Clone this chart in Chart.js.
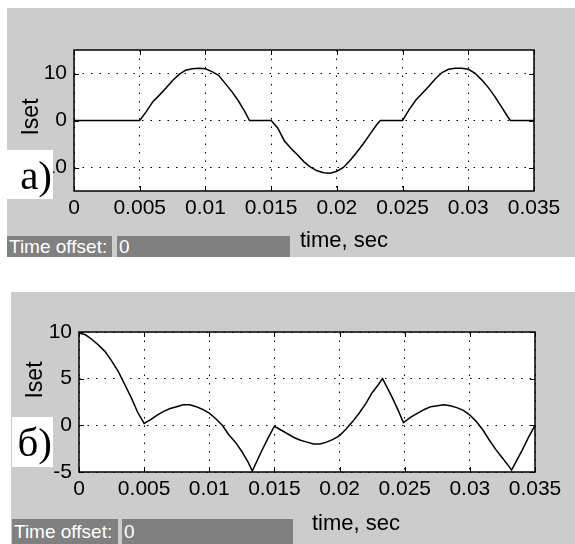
<!DOCTYPE html>
<html>
<head>
<meta charset="utf-8">
<script src="https://cdn.jsdelivr.net/npm/chart.js@4"></script>
<style>
  body { margin:0; background:#fff; width:575px; height:544px; position:relative; overflow:hidden;
         font-family: Arial, 'Liberation Sans', sans-serif; }
  .panel { position:absolute; background:#cccccc; }
  .panel canvas { position:absolute; left:0; top:0; }
  .tag { position:absolute; background:#fff; color:#000; text-align:right;
         font-family:'Liberation Serif','Times New Roman',serif; font-size:41px; line-height:1; }
  .tag span { position:absolute; right:1px; }
  .box { position:absolute; background:#808080; color:#fff; font-size:19px; line-height:1; white-space:nowrap;
         font-family:'Liberation Sans Narrow', Arial, sans-serif; }
  .box span { position:absolute; left:2px; }
  .xlab { position:absolute; font-size:22px; color:#000; white-space:nowrap; line-height:1; }
  .ylab { position:absolute; font-size:23px; color:#000; white-space:nowrap; line-height:1;
          transform:translate(-50%,-50%) rotate(-90deg); }
</style>
</head>
<body>

<div class="panel" id="pa" style="left:7px;top:8px;width:568px;height:249px">
  <canvas id="chartA" width="568" height="249"></canvas>
</div>
<div class="panel" id="pb" style="left:11px;top:292px;width:564px;height:252px">
  <canvas id="chartB" width="564" height="252"></canvas>
</div>

<!-- panel a overlays -->
<div class="ylab" style="left:30px;top:117px">Iset</div>
<div class="tag" style="left:7px;top:150px;width:46px;height:49px"><span style="top:5px">a)</span></div>
<div class="xlab" style="left:300px;top:229px">time, sec</div>
<div class="box" style="left:7px;top:236px;width:105px;height:21px"><span style="top:1px">Time offset:</span></div>
<div class="box" style="left:117px;top:236px;width:173px;height:21px"><span style="top:1px">0</span></div>

<!-- panel b overlays -->
<div class="ylab" style="left:34px;top:380px">Iset</div>
<div class="tag" style="left:12px;top:417px;width:41px;height:50px"><span style="top:5px">б)</span></div>
<div class="xlab" style="left:312px;top:512px">time, sec</div>
<div class="box" style="left:12px;top:519px;width:106px;height:25px"><span style="top:3px">Time offset:</span></div>
<div class="box" style="left:122px;top:519px;width:171px;height:25px"><span style="top:3px">0</span></div>

<script>
// ---- data ----
const xTicks = [0, 0.005, 0.01, 0.015, 0.02, 0.025, 0.03, 0.035];
const xTickLabels = ['0', '0.005', '0.01', '0.015', '0.02', '0.025', '0.03', '0.035'];

// a) thyristor current, humps with dead zones
const tA = [0, 0.005, 0.0055, 0.006, 0.0065, 0.007, 0.0075, 0.008, 0.0085, 0.009, 0.0095, 0.01,
  0.0105, 0.011, 0.0115, 0.012, 0.0125, 0.013, 0.01335, 0.015,
  0.0155, 0.016, 0.0165, 0.017, 0.0175, 0.018, 0.0185, 0.019, 0.0195, 0.02,
  0.0205, 0.021, 0.0215, 0.022, 0.0225, 0.023, 0.0233, 0.025,
  0.0255, 0.026, 0.0265, 0.027, 0.0275, 0.028, 0.0285, 0.029, 0.0295, 0.03,
  0.0305, 0.031, 0.0315, 0.032, 0.0325, 0.033, 0.0332, 0.035];
const iA = [0, 0, 1.9, 4.0, 5.4, 6.9, 8.5, 9.8, 10.7, 11.0, 11.1, 11.0,
  10.4, 9.6, 7.9, 6.2, 4.2, 1.9, 0, 0,
  -1.6, -4.3, -5.9, -7.3, -8.8, -9.9, -10.7, -11.1, -11.2, -10.8,
  -10.0, -8.5, -6.8, -5.0, -3.0, -1.0, 0, 0,
  2.3, 4.3, 5.8, 7.3, 8.9, 10.2, 10.9, 11.1, 11.1, 10.9,
  10.1, 8.7, 7.1, 5.2, 3.0, 0.8, 0, 0];
const yTicksA = [-10, 0, 10];

// б)
const tB = [0, 0.0005, 0.001, 0.0015, 0.002, 0.0025, 0.003, 0.0035, 0.004, 0.0045, 0.005,
  0.0055, 0.006, 0.0065, 0.007, 0.0075, 0.008, 0.0085, 0.009, 0.0095, 0.01,
  0.0105, 0.011, 0.0115, 0.012, 0.0125, 0.013, 0.0133, 0.014, 0.0145, 0.015,
  0.0155, 0.016, 0.0165, 0.017, 0.0175, 0.018, 0.0185, 0.019, 0.0195, 0.02,
  0.0205, 0.021, 0.0215, 0.022, 0.0225, 0.023, 0.0233, 0.024, 0.0245, 0.0249,
  0.0255, 0.026, 0.0265, 0.027, 0.0275, 0.028, 0.0285, 0.029, 0.0295, 0.03,
  0.0305, 0.031, 0.0315, 0.032, 0.0325, 0.033, 0.0332, 0.034, 0.0345, 0.035];
const iB = [9.9, 9.7, 9.2, 8.6, 7.9, 6.9, 5.8, 4.4, 3.0, 1.4, 0.2,
  0.6, 1.1, 1.5, 1.8, 2.0, 2.2, 2.2, 2.0, 1.7, 1.3,
  0.7, 0.0, -1.0, -1.8, -2.8, -4.0, -4.9, -2.8, -1.4, -0.1,
  -0.5, -0.9, -1.3, -1.6, -1.8, -2.0, -2.0, -1.8, -1.5, -1.1,
  -0.4, 0.4, 1.3, 2.3, 3.5, 4.4, 5.0, 3.1, 1.6, 0.3,
  0.9, 1.3, 1.7, 2.0, 2.1, 2.2, 2.1, 1.9, 1.6, 1.1,
  0.4, -0.5, -1.6, -2.6, -3.5, -4.4, -4.8, -2.7, -1.3, 0.0];
const yTicksB = [-5, 0, 5, 10];

const tickFont = { family: '"Liberation Sans Narrow", Arial, "Liberation Sans"', size: 21 };

// white plot box, solid frame, inward tick marks (matlab style)
const frame = {
  id: 'frame',
  beforeDraw(c) {
    const a = c.chartArea, ctx = c.ctx;
    ctx.save(); ctx.fillStyle = '#fff';
    ctx.fillRect(a.left, a.top, a.right - a.left, a.bottom - a.top);
    ctx.restore();
  },
  afterDraw(c) {
    const a = c.chartArea, ctx = c.ctx, x = c.scales.x, y = c.scales.y;
    ctx.save();
    ctx.strokeStyle = '#000'; ctx.lineWidth = 1.5;
    ctx.strokeRect(a.left, a.top, a.right - a.left, a.bottom - a.top);
    ctx.lineWidth = 1;
    ctx.beginPath();
    x.ticks.forEach(t => {
      const px = Math.round(x.getPixelForValue(t.value)) + 0.5;
      ctx.moveTo(px, a.bottom); ctx.lineTo(px, a.bottom - 5);
      ctx.moveTo(px, a.top); ctx.lineTo(px, a.top + 5);
    });
    y.ticks.forEach(t => {
      const py = Math.round(y.getPixelForValue(t.value)) + 0.5;
      ctx.moveTo(a.left, py); ctx.lineTo(a.left + 5, py);
      ctx.moveTo(a.right, py); ctx.lineTo(a.right - 5, py);
    });
    ctx.stroke();
    ctx.restore();
  }
};

function makeChart(id, ts, vals, ymin, ymax, yTicks, pad, yw, xh) {
  return new Chart(document.getElementById(id), {
    type: 'line',
    data: { datasets: [{ data: ts.map((t, k) => ({ x: t, y: vals[k] })),
      borderColor: '#000', borderWidth: 1.5, pointRadius: 0, tension: 0, fill: false }] },
    options: {
      responsive: false, animation: false, events: [],
      layout: { padding: pad },
      plugins: { legend: { display: false }, tooltip: { enabled: false } },
      scales: {
        x: {
          type: 'linear', min: 0, max: 0.035,
          afterBuildTicks: s => { s.ticks = xTicks.map(v => ({ value: v })); },
          afterFit: s => { s.height = xh; },
          ticks: { color: '#000', padding: 5, maxRotation: 0, autoSkip: false, font: tickFont,
                   callback: v => xTickLabels[xTicks.indexOf(v)] },
          grid: { color: '#000', lineWidth: 1, drawTicks: false },
          border: { display: false, dash: [1.5, 7] }
        },
        y: {
          min: ymin, max: ymax,
          afterBuildTicks: s => { s.ticks = yTicks.map(v => ({ value: v })); },
          afterFit: s => { s.width = yw; },
          ticks: { color: '#000', padding: 7, autoSkip: false, font: tickFont,
                   callback: v => String(v) },
          grid: { color: '#000', lineWidth: 1, drawTicks: false },
          border: { display: false, dash: [1.5, 7] }
        }
      }
    },
    plugins: [frame]
  });
}

makeChart('chartA', tA, iA, -15, 15, yTicksA, { top: 42, right: 41, bottom: 0, left: 0 }, 67, 66);
makeChart('chartB', tB, iB, -5, 10, yTicksB, { top: 40, right: 40, bottom: 0, left: 0 }, 68, 72);
</script>
</body>
</html>
